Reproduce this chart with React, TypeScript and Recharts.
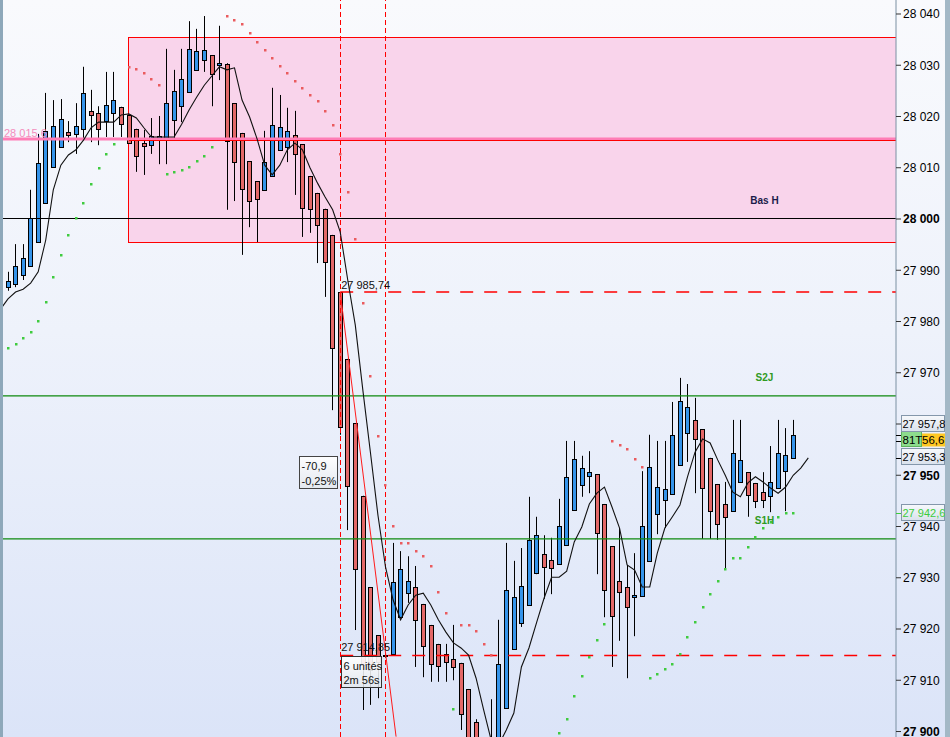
import React from 'react';
import {
  ComposedChart,
  XAxis,
  YAxis,
  Bar,
  Line,
  Scatter,
  ReferenceLine,
  ReferenceArea,
  ReferenceDot,
} from 'recharts';

const FONT = '"Liberation Sans", Arial, sans-serif';

// ---------- candles (index 0..104) ----------
const candleOpen = [
  27986.7, 27987.3, 27989.1, 27990.8, 27995.5, 28003.1, 28010.1, 28014.0, 28017.0, 28016.6,
  28017.6, 28021.1, 28020.7, 28019.1, 28020.7, 28021.9, 28020.3, 28017.6, 28014.8, 28014.4,
  28015.8, 28015.6, 28019.3, 28022.0, 28024.8, 28029.1, 28031.0, 28032.0, 28030.0, 28030.2,
  28022.6, 28016.8, 28011.3, 28007.4, 28005.7, 28008.4, 28013.5, 28014.0, 28016.4, 28014.6,
  28008.4, 28005.1, 28002.0, 27996.9, 27985.74, 27972.7, 27960.2, 27946.0, 27928.2, 27918.8,
  27914.85, 27915.1, 27922.3, 27927.0, 27928.2, 27924.9, 27920.8, 27917.1, 27915.1, 27914.1,
  27913.4, 27908.3, 27901.9, 27889.0, 27886.0, 27895.0, 27904.6, 27916.1, 27921.2, 27924.7,
  27930.9, 27934.6, 27933.5, 27932.7, 27936.4, 27943.2, 27948.1, 27949.9, 27950.2, 27944.4,
  27936.2, 27929.4, 27928.2, 27926.2, 27926.4, 27933.3, 27942.4, 27945.2, 27946.3, 27952.0,
  27958.2, 27960.8, 27959.0, 27953.4, 27948.3, 27944.4, 27943.0, 27948.7, 27950.6, 27948.5,
  27946.7, 27946.0, 27947.5, 27950.8, 27953.3,
];
const candleHigh = [
  27989.7, 27995.1, 27995.1, 28005.7, 28016.6, 28024.6, 28023.2, 28023.4, 28019.1, 28022.6,
  28029.7, 28025.2, 28022.0, 28028.7, 28028.7, 28021.9, 28020.3, 28017.6, 28017.4, 28019.7,
  28020.1, 28033.2, 28029.1, 28033.2, 28038.6, 28037.1, 28039.6, 28032.0, 28037.7, 28030.4,
  28022.6, 28016.8, 28011.3, 28007.4, 28017.2, 28025.6, 28024.2, 28021.7, 28021.1, 28014.6,
  28008.4, 28005.1, 28002.0, 27996.9, 27985.74, 27972.7, 27960.2, 27946.0, 27928.2, 27918.8,
  27915.3, 27936.8, 27935.2, 27934.2, 27932.3, 27924.9, 27920.8, 27917.1, 27917.1, 27920.8,
  27913.4, 27908.3, 27902.4, 27892.0, 27906.3, 27921.8, 27936.8, 27933.3, 27935.8, 27945.8,
  27941.9, 27938.3, 27937.8, 27945.4, 27956.7, 27956.7, 27953.8, 27954.7, 27950.2, 27944.4,
  27936.2, 27939.7, 27932.5, 27934.8, 27950.8, 27957.9, 27956.7, 27956.7, 27964.3, 27969.0,
  27967.8, 27965.1, 27959.0, 27953.4, 27948.3, 27948.7, 27960.8, 27960.8, 27950.6, 27948.5,
  27950.6, 27955.7, 27960.8, 27959.2, 27960.8,
];
const candleLow = [
  27986.0, 27986.7, 27988.1, 27990.8, 27995.5, 28003.1, 28010.1, 28014.0, 28015.0, 28012.7,
  28015.4, 28015.0, 28014.4, 28016.0, 28016.0, 28016.0, 28014.8, 28009.2, 28008.6, 28012.7,
  28010.7, 28010.7, 28015.6, 28018.9, 28024.8, 28029.1, 28028.7, 28022.0, 28027.1, 28001.8,
  28003.5, 27993.0, 27998.4, 27995.5, 28005.7, 28008.4, 28013.5, 28011.1, 28004.7, 27996.5,
  27997.3, 27991.4, 27984.8, 27962.7, 27957.9, 27939.3, 27919.8, 27904.2, 27905.2, 27906.5,
  27914.4, 27915.1, 27922.3, 27925.1, 27912.6, 27910.6, 27909.7, 27909.7, 27909.7, 27910.0,
  27900.3, 27893.0, 27885.0, 27880.0, 27883.0, 27892.0, 27904.6, 27916.1, 27920.4, 27924.7,
  27930.7, 27925.9, 27926.8, 27932.7, 27936.4, 27943.2, 27945.8, 27946.5, 27930.7, 27922.3,
  27912.6, 27917.7, 27910.4, 27918.6, 27926.4, 27933.3, 27938.5, 27939.7, 27946.3, 27952.0,
  27952.6, 27946.5, 27937.6, 27937.6, 27937.4, 27931.9, 27943.0, 27948.7, 27941.9, 27943.6,
  27943.6, 27942.8, 27947.5, 27943.0, 27953.3,
];
const candleClose = [
  27987.9, 27990.8, 27992.4, 28000.2, 28010.9, 28017.2, 28018.1, 28019.5, 28016.4, 28018.1,
  28024.6, 28020.3, 28017.6, 28022.2, 28023.2, 28018.5, 28014.8, 28012.3, 28014.2, 28016.2,
  28016.2, 28022.6, 28025.0, 28027.3, 28033.2, 28032.8, 28033.0, 28028.3, 28030.4, 28015.2,
  28011.1, 28005.9, 28003.5, 28003.9, 28011.1, 28018.3, 28018.0, 28017.2, 28012.7, 28002.1,
  28002.0, 27998.8, 27991.6, 27974.8, 27959.4, 27947.9, 27931.7, 27913.0, 27912.0, 27913.6,
  27914.75, 27929.2, 27931.7, 27929.4, 27921.8, 27916.7, 27913.2, 27912.8, 27913.6, 27912.6,
  27903.4, 27896.5, 27889.0, 27884.0, 27897.0, 27913.2, 27927.6, 27926.2, 27928.4, 27937.4,
  27938.3, 27932.1, 27931.9, 27940.1, 27949.7, 27953.2, 27951.4, 27950.6, 27938.7, 27927.6,
  27922.5, 27927.2, 27924.3, 27926.6, 27940.1, 27951.6, 27947.7, 27947.3, 27957.9, 27964.5,
  27963.3, 27957.1, 27947.5, 27943.0, 27940.5, 27941.9, 27954.3, 27953.0, 27946.1, 27945.0,
  27945.2, 27948.7, 27954.3, 27954.0, 27957.8,
];

// ---------- moving average (index -1 .. 106) ----------
const maStartIndex = -1;
const maValues = [
  27982.4, 27984.4, 27985.75, 27986.3, 27987.5, 27989.7, 27995.9, 28005.7, 28010.5, 28012.5,
  28013.5, 28015.4, 28017.8, 28018.9, 28018.9, 28018.9, 28020.3, 28020.5, 28019.7, 28017.8,
  28016.0, 28016.0, 28016.0, 28016.0, 28018.5, 28021.3, 28023.8, 28026.1, 28027.9, 28029.7,
  28029.1, 28029.5, 28023.2, 28019.9, 28015.6, 28010.5, 28008.6, 28010.5, 28013.5, 28014.8,
  28013.5, 28010.0, 28007.0, 28004.3, 28001.8, 27997.5, 27988.1, 27979.3, 27966.6, 27954.5,
  27942.2, 27932.1, 27925.7, 27921.8, 27924.7, 27926.6, 27927.0, 27924.7, 27921.8, 27919.4,
  27917.3, 27916.3, 27914.9, 27910.4, 27904.2, 27898.3, 27897.4, 27900.3, 27903.6, 27912.6,
  27916.3, 27921.2, 27926.0, 27930.1, 27930.1, 27931.3, 27937.0, 27939.9, 27944.4, 27946.5,
  27947.7, 27943.8, 27939.7, 27932.5, 27931.5, 27928.2, 27928.2, 27934.8, 27939.7, 27941.9,
  27944.2, 27949.7, 27954.5, 27957.1, 27956.3, 27953.0, 27950.0, 27946.7, 27945.8, 27948.5,
  27949.7, 27948.7, 27947.5, 27946.5, 27947.7, 27950.0, 27951.4, 27953.4,
];

// ---------- parabolic SAR ----------
const sarRedIndex = [
  16, 17, 18, 19, 20,
  29, 30, 31, 32, 33, 34, 35, 36, 37, 38, 39, 40, 41, 42, 43, 44, 45, 46, 47, 48, 49, 50,
  51, 52, 53, 54, 55, 56, 57, 58,
  60, 61, 62, 63, 64,
  80, 81, 82, 83, 84,
];
const sarRedValue = [
  28029.7, 28029.3, 28028.5, 28027.3, 28026.1,
  28039.6, 28038.8, 28038.0, 28036.3, 28034.5, 28033.0, 28031.4, 28029.9, 28028.5, 28026.9,
  28025.6, 28024.2, 28023.0, 28021.1, 28018.3, 28012.7, 28005.3, 27996.1, 27983.6, 27969.4,
  27957.7, 27948.1,
  27940.1, 27936.8, 27936.8, 27935.2, 27934.2, 27932.3, 27927.2, 27923.1,
  27920.8, 27920.8, 27919.6, 27917.1, 27914.9,
  27956.7, 27955.9, 27955.1, 27953.2, 27951.6,
];
const sarGreenIndex = [
  0, 1, 2, 3, 4, 5, 6, 7, 8, 9, 10, 11, 12, 13, 14,
  21, 22, 23, 24, 25, 26, 27,
  59,
  73, 74, 75, 76, 77, 78, 79,
  85, 86, 87, 88, 89, 90, 91, 92, 93, 94, 95, 96, 97, 98, 99, 100, 101, 102, 103, 104,
];
const sarGreenValue = [
  27974.8, 27975.6, 27976.8, 27978.0, 27980.1, 27983.8, 27988.7, 27993.0, 27996.9, 28000.2,
  28003.1, 28006.8, 28010.0, 28012.7, 28014.6,
  28008.8, 28009.2, 28009.6, 28010.1, 28011.3, 28012.3, 28014.0,
  27904.4,
  27899.7, 27902.4, 27906.9, 27910.8, 27914.5, 27917.9, 27921.0,
  27910.4, 27911.2, 27912.2, 27913.2, 27915.1, 27918.4, 27921.4, 27924.3, 27926.8, 27929.4,
  27931.7, 27933.9, 27933.9, 27936.0, 27938.0, 27939.7, 27940.9, 27941.9, 27942.6, 27942.6,
];

// ---------- levels / annotations ----------
const yTicks = [
  27900, 27910, 27920, 27930, 27940, 27950, 27960, 27970, 27980, 27990,
  28000, 28010, 28020, 28030, 28040,
];
const hiddenTickLabels = [27960];
const zoneTop = 28035.5;
const zoneBottom = 27995.5;
const zoneStartIndex = 16;
const pivotLevel = 28015.6;
const pivotRedLevel = 28015.35;
const basH = 28000;
const s2j = 27965.5;
const s1h = 27937.6;
const measureStartIndex = 44;
const measureEndIndex = 50;
const measureHigh = 27985.74;
const measureLow = 27914.85;
const trendEnd = { i: 51.4, v: 27899.0 };
const lastClose = 27957.8;
const lastOpen = 27953.3;
const lastPrice = 27956.6;
const lastSar = 27942.6;
const levelLabelIndex = 100.2;

const X_MIN = -0.662;
const X_MAX = 117.616;
const Y_MIN = 27898.93;
const Y_MAX = 28042.73;

const BLUE = '#3594ea';
const RED = '#e36868';
const LEVEL_GREEN = '#0e8a0e';

type Row = { i: number; ma: number; o?: number; c?: number; wick?: number[]; body?: number[] };
const rows: Row[] = maValues.map((ma, k) => {
  const i = maStartIndex + k;
  const row: Row = { i, ma };
  if (i >= 0 && i < candleOpen.length) {
    const o = candleOpen[i];
    const c = candleClose[i];
    row.o = o;
    row.c = c;
    row.wick = [candleLow[i], candleHigh[i]];
    row.body = [Math.min(o, c), Math.max(o, c)];
  }
  return row;
});
const sarRed = sarRedIndex.map((i, k) => ({ i, v: sarRedValue[k] }));
const sarGreen = sarGreenIndex.map((i, k) => ({ i, v: sarGreenValue[k] }));

const fmt = (v: number) => String(v).replace(/\B(?=(\d{3})+(?!\d))/g, ' ');
const fmtDec = (v: number, d: number) => {
  const [a, b] = v.toFixed(d).split('.');
  return fmt(Number(a)) + ',' + b;
};

const ok = (p: any) =>
  p && p.payload && p.payload.o != null && isFinite(p.x) && isFinite(p.y) && isFinite(p.height);

const WickShape = (p: any) => {
  if (!ok(p)) return <g />;
  const cx = Math.round(p.x + p.width / 2) + 0.5;
  return <line x1={cx} x2={cx} y1={p.y} y2={p.y + p.height} stroke="#000" strokeWidth={1} />;
};

const BodyShape = (p: any) => {
  if (!ok(p)) return <g />;
  const up = p.payload.c >= p.payload.o;
  const r = Math.round(p.x + p.width / 2);
  const top = Math.round(p.y) + 0.5;
  const h = Math.max(1, Math.round(p.height));
  return (
    <rect x={r - 1.5} y={top} width={4} height={h} fill={up ? BLUE : RED} stroke="#000" strokeWidth={1} />
  );
};

const sarShape = (color: string) => (p: any) => {
  if (!p || !isFinite(p.cx) || !isFinite(p.cy)) return <g />;
  return <rect x={Math.round(p.cx) - 1} y={Math.round(p.cy) - 1} width={2.5} height={2.5} fill={color} />;
};

const YTick = (p: any) => {
  const v = p.payload.value;
  if (hiddenTickLabels.includes(v)) return <g />;
  const bold = v % 50 === 0;
  return (
    <text x={p.x} y={p.y} dy="0.36em" fontSize={12} fontWeight={bold ? 700 : 400} fill="#000" fontFamily={FONT}>
      {fmt(v)}
    </text>
  );
};

const priceTag = (value: number, boxDy: number, textColor: string, tickColor: string) => (p: any) => {
  const { cx, cy } = p;
  const top = Math.round(cy + boxDy) + 0.5;
  return (
    <g>
      <line x1={cx} x2={cx + 5} y1={Math.round(cy) + 0.5} y2={Math.round(cy) + 0.5} stroke={tickColor} strokeWidth={1} />
      <rect x={cx + 5.5} y={top} width={43} height={16} fill="url(#tagGrad)" stroke="#8497ab" />
      <text x={cx + 6.5} y={top + 12} fontSize={11} fill={textColor} fontFamily={FONT}>
        {fmtDec(value, 1)}
      </text>
    </g>
  );
};

const LastPriceShape = (p: any) => {
  const { cx, cy } = p;
  const r = Math.round(cy);
  return (
    <g>
      <defs>
        <linearGradient id="tagGrad" x1="0" y1="0" x2="0" y2="1">
          <stop offset="0%" stopColor="#f7f9fc" />
          <stop offset="100%" stopColor="#d9e1ec" />
        </linearGradient>
      </defs>
      <line x1={cx} x2={cx + 5} y1={r + 0.5} y2={r + 0.5} stroke="#000" strokeWidth={1} />
      <rect x={cx + 25} y={r - 7.5} width={24} height={13} fill="#ffc824" />
      <text x={cx + 26} y={r + 3} fontSize={11.5} fill="#000" fontFamily={FONT}>
        {fmtDec(lastPrice, 1).slice(-4)}
      </text>
      <rect x={cx + 5.5} y={r - 10.5} width={20} height={16} fill="#8ddc8d" stroke="#5fb35f" />
      <text x={cx + 6.5} y={r + 3} fontSize={11.5} fill="#000" fontFamily={FONT}>
        81T
      </text>
    </g>
  );
};

const levelText = (label: string, color: string) => (p: any) => (
  <text
    x={p.cx}
    y={p.cy - 15}
    textAnchor="middle"
    fontSize={10}
    fontWeight={700}
    fill={color}
    fontFamily={FONT}
  >
    {label}
  </text>
);

const PivotText = (p: any) => (
  <text x={p.cx + 1} y={p.cy - 2} fontSize={11} fill="#f48dbd" fontFamily={FONT}>
    {fmtDec(pivotLevel, 1)}
  </text>
);

const valueText = (value: number, dy: number) => (p: any) => (
  <text x={p.cx + 1} y={p.cy + dy} fontSize={11} fill="#111" fontFamily={FONT}>
    {fmtDec(value, 2)}
  </text>
);

const diff = measureLow - measureHigh;
const pct = (diff / measureHigh) * 100;
const MeasureBox = (p: any) => {
  const { cx, cy } = p;
  const x = Math.round(cx) - 40.5;
  const y = Math.round(cy) - 18.5;
  return (
    <g>
      <rect x={x} y={y} width={38} height={32} fill="url(#boxGrad)" stroke="#444" />
      <text x={x + 2} y={y + 13} fontSize={11} fill="#111" fontFamily={FONT}>
        {diff.toFixed(1).replace('.', ',')}
      </text>
      <text x={x + 2} y={y + 28} fontSize={11} fill="#111" fontFamily={FONT}>
        {pct.toFixed(2).replace('.', ',') + '%'}
      </text>
    </g>
  );
};

const DurationBox = (p: any) => {
  const { cx, cy } = p;
  const x = Math.round(cx) + 1.5;
  const y = Math.round(cy) + 1.5;
  return (
    <g>
      <defs>
        <linearGradient id="boxGrad" x1="0" y1="0" x2="0" y2="1">
          <stop offset="0%" stopColor="#ffffff" stopOpacity={0.92} />
          <stop offset="100%" stopColor="#e4e8ee" stopOpacity={0.85} />
        </linearGradient>
      </defs>
      <rect x={x} y={y} width={40} height={31} fill="url(#boxGrad)" stroke="#333" />
      <text x={x + 2} y={y + 13} fontSize={11} fill="#111" fontFamily={FONT}>
        {measureEndIndex - measureStartIndex} unités
      </text>
      <text x={x + 2} y={y + 27} fontSize={11} fill="#111" fontFamily={FONT}>
        2m 56s
      </text>
    </g>
  );
};

export default function App() {
  return (
    <div
      style={{
        position: 'absolute',
        left: 0,
        top: 0,
        width: 950,
        height: 737,
        overflow: 'hidden',
        background: 'linear-gradient(to bottom, #f9fafd 0%, #eef2fb 45%, #dbe4f8 100%)',
        fontFamily: FONT,
      }}
    >
      <ComposedChart
        width={950}
        height={737}
        data={rows}
        margin={{ top: 0, right: 5, bottom: 0, left: 3 }}
      >
        <XAxis dataKey="i" type="number" domain={[X_MIN, X_MAX]} allowDataOverflow hide />
        <XAxis xAxisId="b" dataKey="i" type="number" domain={[X_MIN, X_MAX]} allowDataOverflow hide />
        <YAxis
          orientation="right"
          type="number"
          domain={[Y_MIN, Y_MAX]}
          allowDataOverflow
          ticks={yTicks}
          interval={0}
          width={49}
          tickSize={5}
          tickMargin={2}
          tick={<YTick />}
          tickLine={{ stroke: '#333' }}
          axisLine={{ stroke: '#7a90a2' }}
        />

        <ReferenceArea
          x1={zoneStartIndex}
          x2={X_MAX}
          y1={zoneBottom}
          y2={zoneTop}
          fill="#f9d4eb"
          fillOpacity={1}
          stroke="#ff0000"
          strokeWidth={1}
          ifOverflow="hidden"
          shapeRendering="crispEdges"
        />

        <Bar dataKey="wick" barSize={5} shape={WickShape} isAnimationActive={false} />
        <Bar xAxisId="b" dataKey="body" barSize={5} shape={BodyShape} isAnimationActive={false} />

        <ReferenceLine y={pivotLevel} stroke="#ff7db6" strokeWidth={3} />
        <ReferenceLine
          segment={[
            { x: zoneStartIndex, y: pivotRedLevel },
            { x: X_MAX, y: pivotRedLevel },
          ]}
          stroke="#ff0000"
          strokeWidth={1}
          shapeRendering="crispEdges"
        />
        <ReferenceLine y={basH} stroke="#000" strokeWidth={1} shapeRendering="crispEdges" />
        <ReferenceLine y={s2j} stroke={LEVEL_GREEN} strokeWidth={1.2} />
        <ReferenceLine y={s1h} stroke={LEVEL_GREEN} strokeWidth={1.2} />
        <ReferenceLine
          segment={[
            { x: measureStartIndex, y: measureHigh },
            { x: X_MAX, y: measureHigh },
          ]}
          stroke="#ff0000"
          strokeWidth={1.5}
          strokeDasharray="13 11"
        />
        <ReferenceLine
          segment={[
            { x: measureStartIndex, y: measureLow },
            { x: X_MAX, y: measureLow },
          ]}
          stroke="#ff0000"
          strokeWidth={1.5}
          strokeDasharray="13 11"
        />
        <ReferenceLine x={measureStartIndex} stroke="#ff0000" strokeWidth={1} strokeDasharray="5 3" shapeRendering="crispEdges" />
        <ReferenceLine x={measureEndIndex} stroke="#ff0000" strokeWidth={1} strokeDasharray="5 3" shapeRendering="crispEdges" />
        <ReferenceLine
          segment={[
            { x: measureStartIndex, y: measureHigh },
            { x: trendEnd.i, y: trendEnd.v },
          ]}
          stroke="#ff1a1a"
          strokeWidth={1}
        />

        <Line
          dataKey="ma"
          type="linear"
          stroke="#111"
          strokeWidth={1.1}
          dot={false}
          activeDot={false}
          isAnimationActive={false}
        />

        <Scatter data={sarRed} dataKey="v" shape={sarShape('#ea5b5e')} isAnimationActive={false} />
        <Scatter data={sarGreen} dataKey="v" shape={sarShape('#3fcb3f')} isAnimationActive={false} />

        <ReferenceDot x={levelLabelIndex} y={basH} shape={levelText('Bas H', '#1c1c4a')} ifOverflow="visible" />
        <ReferenceDot x={levelLabelIndex} y={s2j} shape={levelText('S2J', '#2f9a22')} ifOverflow="visible" />
        <ReferenceDot x={levelLabelIndex} y={s1h} shape={levelText('S1H', '#2f9a22')} ifOverflow="visible" />
        <ReferenceDot x={X_MIN} y={pivotLevel} shape={PivotText} ifOverflow="visible" />
        <ReferenceDot x={measureStartIndex} y={measureHigh} shape={valueText(measureHigh, -3)} ifOverflow="visible" />
        <ReferenceDot x={measureStartIndex} y={measureLow} shape={DurationBox} ifOverflow="visible" />
        <ReferenceDot x={measureStartIndex} y={measureLow} shape={valueText(measureLow, -4)} ifOverflow="visible" />
        <ReferenceDot x={measureStartIndex} y={27950} shape={MeasureBox} ifOverflow="visible" />

        <ReferenceDot x={X_MAX} y={lastPrice} shape={LastPriceShape} ifOverflow="visible" />
        <ReferenceDot x={X_MAX} y={lastClose} shape={priceTag(lastClose, -20, '#000', '#000')} ifOverflow="visible" />
        <ReferenceDot x={X_MAX} y={lastOpen} shape={priceTag(lastOpen, -10, '#000', '#000')} ifOverflow="visible" />
        <ReferenceDot x={X_MAX} y={lastSar} shape={priceTag(lastSar, -9, '#3ccc3c', '#3ccc3c')} ifOverflow="visible" />
      </ComposedChart>
      <div style={{ position: 'absolute', left: 0, top: 0, width: 3, height: 737, background: '#8ea8ba' }} />
      <div style={{ position: 'absolute', left: 945, top: 0, width: 5, height: 737, background: '#a3b8c6' }} />
    </div>
  );
}
